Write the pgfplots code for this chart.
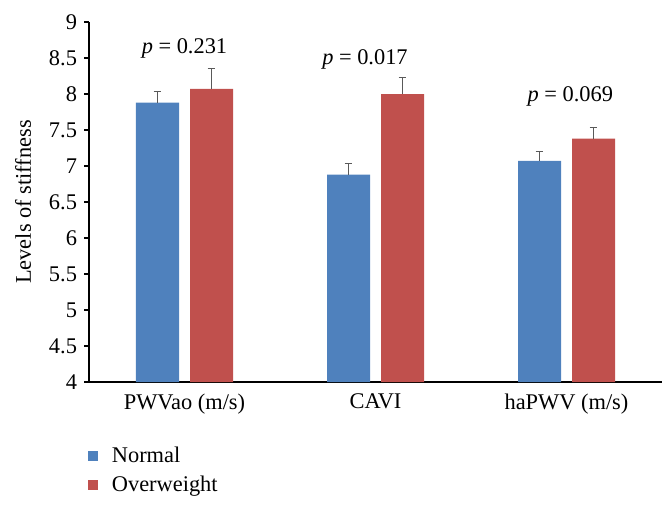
\documentclass[border=0pt]{standalone}
\usepackage{fontspec}
\setmainfont{Liberation Serif}
\usepackage{pgfplots}
\pgfplotsset{compat=1.18}
\definecolor{normalblue}{HTML}{4F81BD}
\definecolor{owred}{HTML}{C0504D}
\definecolor{errgrey}{HTML}{595959}

\begin{document}
\begin{tikzpicture}[font=\fontsize{11.2bp}{13.4bp}\selectfont]
\path[use as bounding box] (-44.5bp,-63.5bp) rectangle (291.5bp,191bp);
\begin{axis}[
    at={(0,0)}, anchor=south west,
    scale only axis,
    width=286.5bp, height=180bp,
    ybar=5.5bp, bar width=21.5bp,
    xmin=-0.5, xmax=2.5,
    ymin=4, ymax=9,
    xtick={0,1,2},
    xticklabels={PWVao (m/s), CAVI, haPWV (m/s)},
    ytick={4,4.5,5,5.5,6,6.5,7,7.5,8,8.5,9},
    /pgf/number format/assume math mode=true,
    axis x line*=bottom, axis y line*=left,
    axis line style={-, black, line width=0.6bp},
    tick align=outside,
    major tick length=2.5bp,
    ytick style={black, line width=0.6bp},
    xtick style={draw=none},
    ylabel={Levels of stiffness},
    ylabel style={at={(axis description cs:-0.115,0.5)}, anchor=center},
    clip=false,
    legend style={draw=none, fill=none, at={(axis description cs:-0.013,-0.157)},
        anchor=north west, legend cell align=left, row sep=1.2bp,
        /tikz/every odd column/.style={column sep=5bp}},
    legend image code/.code={\fill[#1] (0bp,-2.5bp) rectangle (5bp,2.5bp);},
    error bars/error bar style={errgrey, line width=0.6bp},
    error bars/error mark options={rotate=90, mark size=1.9bp, errgrey, line width=0.6bp},
]
% Normal
\addplot+[fill=normalblue, draw=none,
    error bars/.cd, y dir=plus, y explicit]
    coordinates {(0,7.88) +- (0,0.15) (1,6.88) +- (0,0.15) (2,7.07) +- (0,0.13)};
% Overweight
\addplot+[fill=owred, draw=none,
    error bars/.cd, y dir=plus, y explicit]
    coordinates {(0,8.07) +- (0,0.28) (1,8.00) +- (0,0.23) (2,7.38) +- (0,0.15)};
\legend{Normal, Overweight}

\node[anchor=base] at (axis cs:0,8.56) {\textit{p} = 0.231};
\node[anchor=base] at (axis cs:0.945,8.41) {\textit{p} = 0.017};
\node[anchor=base] at (axis cs:2.02,7.89) {\textit{p} = 0.069};
\end{axis}
\end{tikzpicture}
\end{document}
